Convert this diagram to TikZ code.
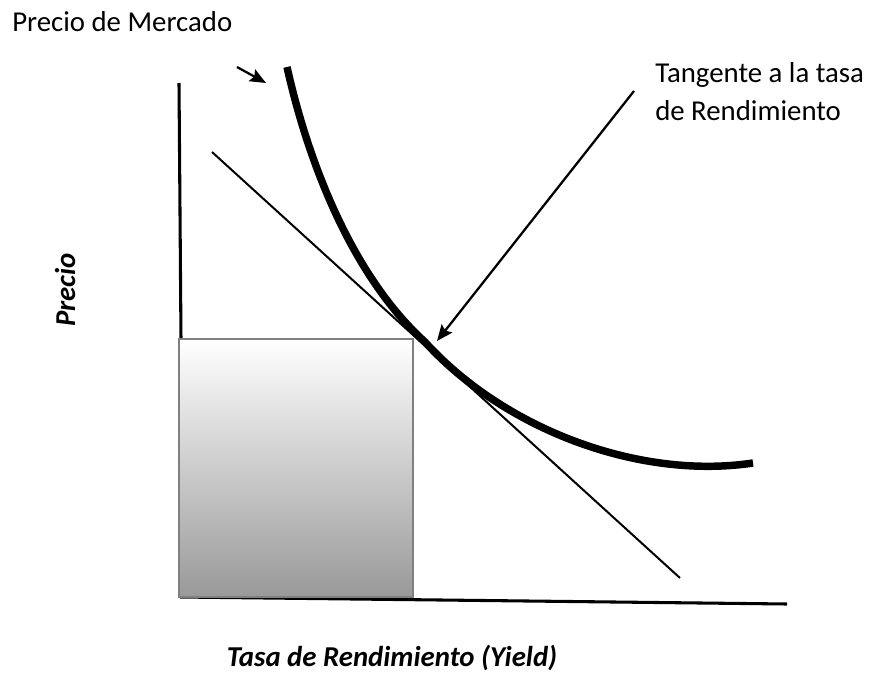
\documentclass[tikz,border=0pt]{standalone}
\usepackage{fontspec}
\setmainfont{Carlito}
\usetikzlibrary{arrows.meta}
\definecolor{gris1}{rgb}{0.5,0.5,0.5}
\definecolor{gris2}{rgb}{0.6,0.6,0.6}

\begin{document}
\begin{tikzpicture}[x=0.75pt, y=-0.75pt]
    \tikzstyle{every node} = [inner sep=0pt, text=black, font=\fontsize{21.6}{28.5}\selectfont]
    \tikzstyle{titulo} = [font=\fontsize{21.6}{28.5}\selectfont\bfseries\itshape]
    \tikzstyle{eje} = [line width=2.3pt]
    \tikzstyle{curva} = [line width=5.6pt]
    \tikzstyle{flecha} = [line width=1.7pt, -{Stealth[length=12pt,width=10pt,inset=2pt]}]
    \useasboundingbox (0,0) rectangle (872,675);

    \node[anchor=base west]        (mercado) at (12,31)   {Precio de Mercado};
    \node[anchor=base west]        (tang1)   at (655,82)  {Tangente a la tasa};
    \node[anchor=base west]        (tang2)   at (655,120) {de Rendimiento};
    \node[titulo,rotate=90,anchor=base] (precio) at (75,290) {Precio};
    \node[titulo,anchor=base]      (tasa)    at (392,666) {Tasa de Rendimiento (Yield)};

    \coordinate (y_top)   at (179,83);
    \coordinate (y_bot)   at (183,597);
    \coordinate (origen)  at (180,597);
    \coordinate (x_fin)   at (787,604);
    \coordinate (t_ini)   at (212,152);
    \coordinate (t_fin)   at (680,578);
    \coordinate (c_ini)   at (287,67);
    \coordinate (c_tang)  at (425,342);
    \coordinate (c_fin)   at (753,463);
    \coordinate (m_ini)   at (237,67);
    \coordinate (m_fin)   at (266,83);
    \coordinate (f_ini)   at (634,91);
    \coordinate (f_fin)   at (437,341);

    % ejes
    \draw[eje] (y_top) -- (y_bot);
    \draw[eje] (origen) -- (x_fin);
    \path[draw=gris1, line width=2pt, top color=white, bottom color=gris2] (179,339) rectangle (413,597);

    % tangente y curva de precio
    \draw[line width=1.5pt] (t_ini) -- (t_fin);
    \draw[curva] (c_ini) .. controls (307,157) and (350,274) .. (c_tang)
                         .. controls (505,430) and (640,480) .. (c_fin);

    \draw[flecha] (m_ini) -- (m_fin);
    \draw[flecha] (f_ini) -- (f_fin);
\end{tikzpicture}
\end{document}
